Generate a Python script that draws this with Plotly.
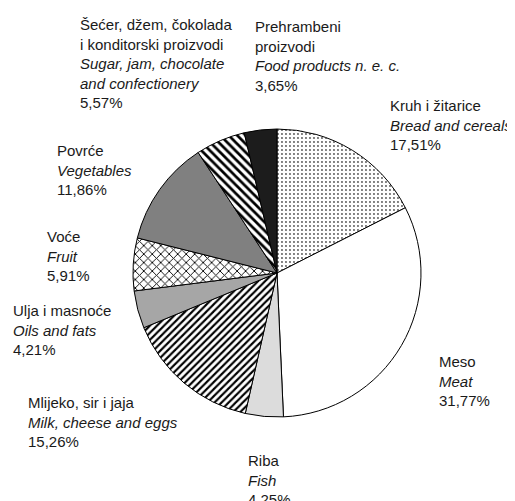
import plotly.graph_objects as go

W, H = 515, 501
OFF = 8  # page body margin offset

labels_hr = ["Kruh i žitarice", "Meso", "Riba", "Mlijeko, sir i jaja", "Ulja i masnoće",
             "Voće", "Povrće", "Šećer, džem, čokolada<br>i konditorski proizvodi",
             "Prehrambeni<br>proizvodi"]
labels_en = ["Bread and cereals", "Meat", "Fish", "Milk, cheese and eggs", "Oils and fats",
             "Fruit", "Vegetables", "Sugar, jam, chocolate<br>and confectionery",
             "Food products n. e. c."]
values = [17.51, 31.77, 4.25, 15.26, 4.21, 5.91, 11.86, 5.57, 3.65]
pct_text = ["17,51%", "31,77%", "4,25%", "15,26%", "4,21%", "5,91%", "11,86%", "5,57%", "3,65%"]

colors = ["#ffffff", "#ffffff", "#dcdcdc", "#ffffff", "#a6a6a6",
          "#ffffff", "#808080", "#ffffff", "#1c1c1c"]
pat_shape = [".", "", "", "/", "", "x", "", "\\", ""]
pat_size = [4, 6, 6, 5, 6, 6, 6, 6, 6]
pat_solid = [0.18, 0.3, 0.3, 0.42, 0.3, 0.28, 0.3, 0.45, 0.3]
pat_fg = ["#555555", "#000", "#000", "#000000", "#000", "#000000", "#000", "#000000", "#000"]
pat_bg = colors

# label anchor (left x, first-line baseline y) in pixels of the screenshot
lab_pos = [(390, 112), (439, 368), (248, 467), (28, 409), (13, 317),
           (47, 243), (57, 157), (80, 31), (255, 33)]

fig = go.Figure(go.Pie(
    values=values,
    labels=[l.replace("<br>", " ") for l in labels_hr],
    sort=False,
    direction="clockwise",
    rotation=0,
    textinfo="none",
    hoverinfo="label+percent",
    showlegend=False,
    marker=dict(
        colors=colors,
        line=dict(color="#000000", width=1),
        pattern=dict(shape=pat_shape, size=pat_size, solidity=pat_solid,
                     fgcolor=pat_fg, bgcolor=pat_bg, fillmode="replace"),
    ),
    domain=dict(x=[(133 - OFF) / W, (421 - OFF) / W],
                y=[1 - (417 - OFF) / H, 1 - (129 - OFF) / H]),
))

annotations = []
for hr, en, pt, (lx, by) in zip(labels_hr, labels_en, pct_text, lab_pos):
    annotations.append(dict(
        x=(lx - 10) / W, y=1 - (by - 25) / H, xref="paper", yref="paper",
        xanchor="left", yanchor="top", align="left", showarrow=False,
        text=f"{hr}<br><i>{en}</i><br>{pt}",
        font=dict(family="Liberation Sans, Arial, sans-serif", size=15, color="#1a1a1a"),
    ))

fig.update_layout(
    width=W, height=H,
    margin=dict(l=0, r=0, t=0, b=0),
    paper_bgcolor="#ffffff",
    plot_bgcolor="#ffffff",
    annotations=annotations,
)

fig.write_html("out.html")
